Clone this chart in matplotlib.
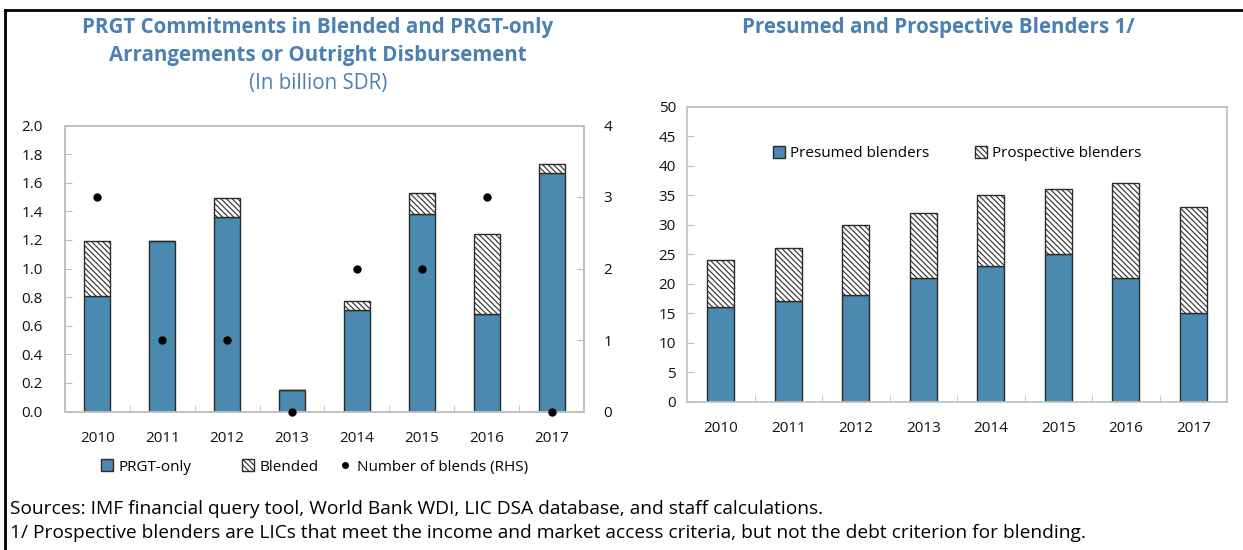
import matplotlib
matplotlib.use("Agg")
import matplotlib.pyplot as plt
from matplotlib.patches import Patch
from matplotlib.lines import Line2D
import numpy as np

plt.rcParams['font.family'] = ['Open Sans', 'DejaVu Sans']
plt.rcParams['hatch.linewidth'] = 0.8
plt.rcParams['hatch.color'] = '#555555'

years = ['2010', '2011', '2012', '2013', '2014', '2015', '2016', '2017']
prgt_only = [0.81, 1.19, 1.36, 0.15, 0.71, 1.38, 0.68, 1.67]
blended = [0.38, 0.0, 0.13, 0.0, 0.06, 0.15, 0.56, 0.06]
n_blends = [3, 1, 1, 0, 2, 2, 3, 0]

presumed = [16, 17, 18, 21, 23, 25, 21, 15]
prospective = [8, 9, 12, 11, 12, 11, 16, 18]

BLUE = '#4A8AB0'
TITLE = '#4A80B4'
SPINE = '#BFBFBF'
EDGE = '#2b2b2b'
HATCH = '\\\\\\\\\\\\'
W, H = 1243, 550

fig = plt.figure(figsize=(W / 100, H / 100), dpi=100)

def ax_rect(x0, x1, y0, y1):
    return [x0 / W, 1 - y1 / H, (x1 - x0) / W, (y1 - y0) / H]

def style(ax):
    for s in ax.spines.values():
        s.set_color(SPINE)
        s.set_linewidth(1.2)
    ax.tick_params(axis='both', direction='in', color=SPINE, labelsize=11,
                   labelcolor='#111111', length=5)

x = np.arange(len(years))

# Left chart
ax1 = fig.add_axes(ax_rect(65, 584, 125.5, 411.5))
ax1.bar(x, prgt_only, 0.4, color=BLUE, edgecolor=EDGE, linewidth=1, zorder=2)
ax1.bar(x, blended, 0.4, bottom=prgt_only, color='white', edgecolor=EDGE,
        hatch=HATCH, linewidth=1, zorder=2)
ax1.set_xlim(-0.5, len(years) - 0.5)
ax1.set_ylim(0, 2.0)
ax1.set_yticks(np.arange(0, 2.01, 0.2))
ax1.set_yticklabels([f'{v:.1f}' for v in np.arange(0, 2.01, 0.2)])
ax1.set_xticks(x)
ax1.set_xticklabels(years)
ax1.set_xticks(np.arange(0.5, len(years) - 1, 1), minor=True)
style(ax1)
ax1.tick_params(axis='x', which='major', length=0, pad=14)
ax1.tick_params(axis='x', which='minor', direction='in', length=5, color=SPINE)
ax1.tick_params(axis='y', pad=16)
ax1b = ax1.twinx()
ax1b.plot(x, n_blends, 'o', color='black', markersize=5, zorder=5, clip_on=False)
ax1b.set_ylim(0, 4)
ax1b.set_yticks([0, 1, 2, 3, 4])
style(ax1b)
ax1b.tick_params(axis='y', pad=14)

fig.text(318 / W, 1 - 27 / H, 'PRGT Commitments in Blended and PRGT-only',
         ha='center', va='center', fontsize=14.8, fontweight='bold', color=TITLE)
fig.text(318 / W, 1 - 55 / H, 'Arrangements or Outright Disbursement',
         ha='center', va='center', fontsize=14.8, fontweight='bold', color=TITLE)
fig.text(318 / W, 1 - 83 / H, '(In billion SDR)',
         ha='center', va='center', fontsize=14.8, color=TITLE)

leg_items = [
    (Patch(facecolor=BLUE, edgecolor=EDGE, label='PRGT-only'), 101),
    (Patch(facecolor='white', edgecolor=EDGE, hatch=HATCH, label='Blended'), 242),
    (Line2D([], [], marker='o', color='black', linestyle='none', markersize=4,
            label='Number of blends (RHS)'), 339),
]
for handle, xpos in leg_items:
    lg = fig.legend(handles=[handle], loc='center left',
                    bbox_to_anchor=(xpos / W, 1 - 467 / H), frameon=False,
                    fontsize=11, handlelength=0.8, handleheight=0.8,
                    handletextpad=0.35, borderpad=0, borderaxespad=0)

# Right chart
ax2 = fig.add_axes(ax_rect(687, 1227, 106.7, 401.5))
ax2.bar(x, presumed, 0.4, color=BLUE, edgecolor=EDGE, linewidth=1, zorder=2,
        label='Presumed blenders')
ax2.bar(x, prospective, 0.4, bottom=presumed, color='white', edgecolor=EDGE,
        hatch=HATCH, linewidth=1, zorder=2, label='Prospective blenders')
ax2.set_xlim(-0.5, len(years) - 0.5)
ax2.set_ylim(0, 50)
ax2.set_yticks(np.arange(0, 51, 5))
ax2.set_xticks(x)
ax2.set_xticklabels(years)
ax2.set_xticks(np.arange(0.5, len(years) - 1, 1), minor=True)
style(ax2)
ax2.tick_params(axis='x', which='major', length=0, pad=14)
ax2.tick_params(axis='x', which='minor', direction='in', length=5, color=SPINE)
ax2.tick_params(axis='y', pad=8)
ax2.legend(loc='center', bbox_to_anchor=(0.5, 0.84), ncol=2, frameon=False,
           fontsize=11, handlelength=0.8, handleheight=0.8, handletextpad=0.3,
           columnspacing=3.0)

fig.text(938 / W, 1 - 27 / H, 'Presumed and Prospective Blenders 1/',
         ha='center', va='center', fontsize=14.8, fontweight='bold', color=TITLE)

fig.text(10 / W, 1 - 509 / H,
         'Sources: IMF financial query tool, World Bank WDI, LIC DSA database, and staff calculations.',
         ha='left', va='center', fontsize=13.8, color='black')
fig.text(10 / W, 1 - 533 / H,
         '1/ Prospective blenders are LICs that meet the income and market access criteria, but not the debt criterion for blending.',
         ha='left', va='center', fontsize=13.8, color='black')

# figure border (top and left)
fig.add_artist(Line2D([5 / W, 1], [1 - 10 / H, 1 - 10 / H], color='black', linewidth=2,
                      transform=fig.transFigure))
fig.add_artist(Line2D([5 / W, 5 / W], [0, 1 - 10 / H], color='black', linewidth=2,
                      transform=fig.transFigure))

fig.savefig('out.png', dpi=100)
